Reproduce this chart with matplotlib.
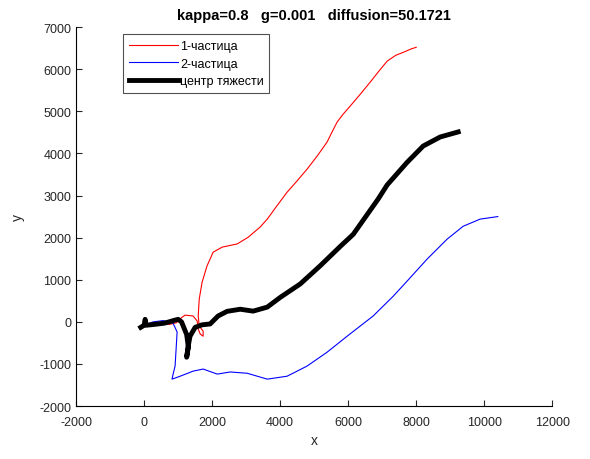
# -*- coding: utf-8 -*-

import matplotlib
matplotlib.use('Agg')
import matplotlib.pyplot as plt

plt.rcParams['font.family'] = ['Liberation Sans', 'DejaVu Sans']
plt.rcParams['axes.unicode_minus'] = False

# particle 1 (red)
x1 = [-100, 150, 450, 750, 950, 1100, 1205, 1440, 1560, 1590, 1650, 1735, 1735, 1620, 1590,
      1620, 1705, 1850, 2030, 2295, 2735, 3060, 3410, 3620, 3900, 4205, 4500, 4790, 5100,
      5380, 5520, 5675, 5850, 6060, 6350, 6645, 6900, 7145, 7400, 7620, 7850, 8000]
y1 = [-120, -60, -40, -60, -20, 100, 160, 140, 20, -170, -290, -340, -220, -100, 140,
      540, 945, 1330, 1655, 1775, 1850, 2010, 2250, 2440, 2750, 3080, 3350, 3625, 3950,
      4270, 4500, 4745, 4930, 5125, 5400, 5690, 5950, 6190, 6330, 6400, 6480, 6520]

# particle 2 (blue)
x2 = [-100, 100, 265, 560, 850, 970, 940, 910, 850, 820, 1060, 1440, 1735, 2150, 2530,
      3030, 3620, 4205, 4790, 5380, 5970, 6735, 7325, 7735, 8320, 8910, 9380, 9880, 10400]
y2 = [-120, -50, 0, 30, -30, -240, -650, -1050, -1250, -1360, -1290, -1170, -1120, -1240,
      -1190, -1220, -1360, -1290, -1050, -720, -340, 140, 610, 970, 1490, 1965, 2270, 2440, 2500]

# centre of mass (black)
xc = [-100, 0, 30, 60, 300, 600, 900, 1000, 1100, 1250, 1300, 1250, 1300, 1350, 1500, 1705,
      1940, 2175, 2440, 2825, 3205, 3620, 4000, 4590, 5175, 5765, 6150, 6560, 6880, 7145,
      7735, 8205, 8705, 9235]
yc = [-130, -80, 60, -80, -60, -30, 40, 60, 0, -300, -600, -840, -560, -340, -130, -70,
      -50, 140, 250, 300, 255, 350, 580, 900, 1330, 1790, 2080, 2550, 2915, 3250,
      3790, 4175, 4390, 4510]

labels = ['1-частица', '2-частица', 'центр тяжести']

fig = plt.figure(figsize=(5.9, 4.6), dpi=100)
ax = fig.add_axes([0.129, 0.115, 0.807, 0.824])

ax.plot(x1, y1, color='#ff0000', lw=0.8, label=labels[0])
ax.plot(x2, y2, color='#0000ff', lw=0.8, label=labels[1])
ax.plot(xc, yc, color='black', lw=3.5, label=labels[2])

ax.set_xlim(-2000, 12000)
ax.set_ylim(-2000, 7000)
ax.set_xticks(range(-2000, 12001, 2000))
ax.set_yticks(range(-2000, 7001, 1000))
ax.spines['top'].set_visible(False)
ax.spines['right'].set_visible(False)
ax.tick_params(direction='in', length=4, labelsize=9, colors='#262626')
ax.tick_params(axis='x', pad=7)
ax.set_xlabel('x', fontsize=10, color='#262626', labelpad=4)
ax.set_ylabel('y', fontsize=10, color='#262626', labelpad=10)
ax.set_title('kappa=0.8   g=0.001   diffusion=50.1721', fontsize=10.5, fontweight='bold')

leg = ax.legend(loc='upper left', bbox_to_anchor=(0.099, 0.981), borderaxespad=0,
                fancybox=False, edgecolor='#262626', fontsize=9, handlelength=3.9,
                labelspacing=0.45, handletextpad=0.2, borderpad=0.45)
leg.get_frame().set_linewidth(0.8)

fig.savefig('out.png', dpi=100)
